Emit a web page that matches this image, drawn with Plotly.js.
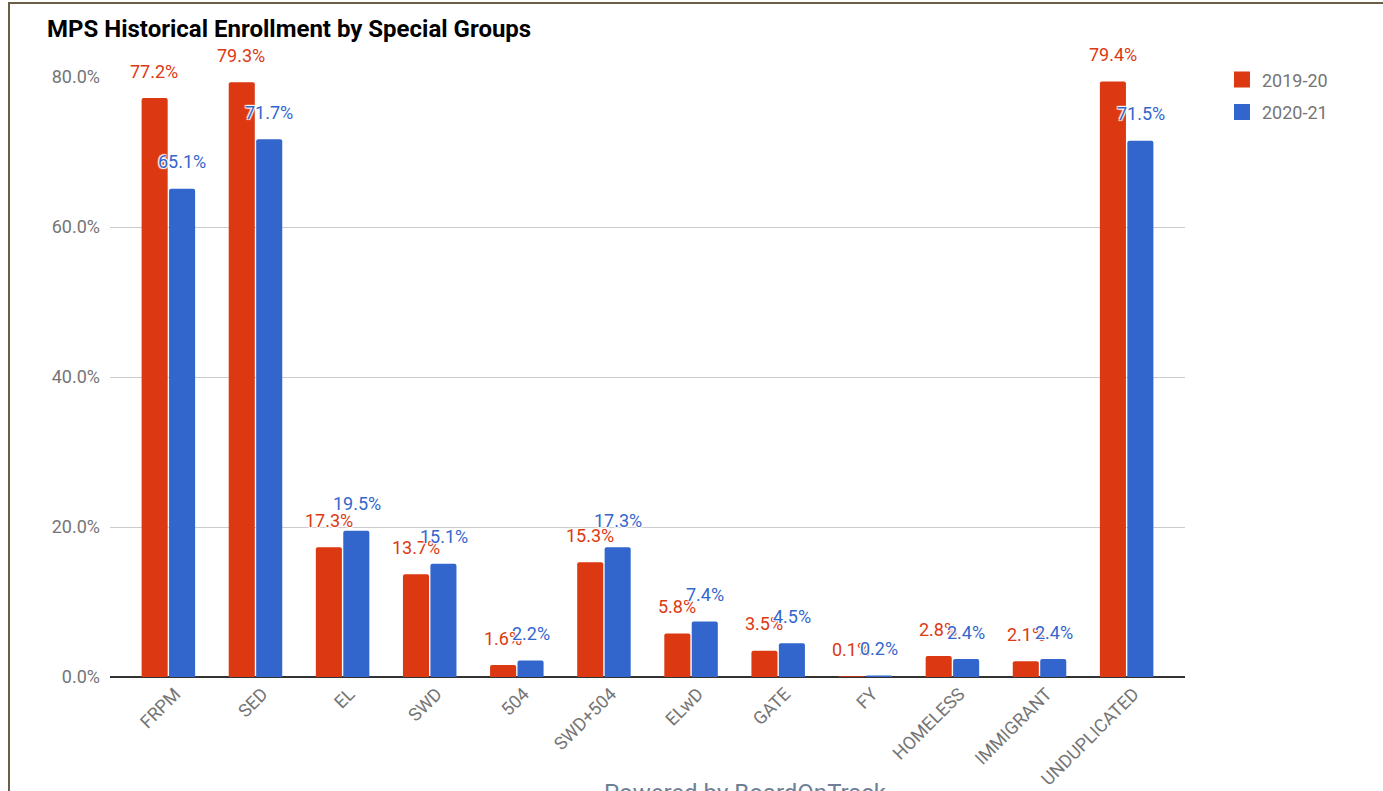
<!DOCTYPE html>
<html>
<head>
<meta charset="utf-8">
<script src="https://cdn.plot.ly/plotly-3.0.1.min.js"></script>
<style>
  html, body { margin: 0; padding: 0; background: #fff; overflow: hidden; }
  #chart { width: 1383px; height: 791px; }
  #frame { position: absolute; left: 8px; top: 2px; width: 1400px; height: 820px;
           border-top: 2px solid #6b5e45; border-left: 2px solid #6b5e45; pointer-events: none; }
</style>
</head>
<body>
<div id="chart"></div>
<div id="frame"></div>
<script>
const categories = ["FRPM", "SED", "EL", "SWD", "504", "SWD+504", "ELwD", "GATE", "FY", "HOMELESS", "IMMIGRANT", "UNDUPLICATED"];
const series2019 = [77.2, 79.3, 17.3, 13.7, 1.6, 15.3, 5.8, 3.5, 0.1, 2.8, 2.1, 79.4];
const series2020 = [65.1, 71.7, 19.5, 15.1, 2.2, 17.3, 7.4, 4.5, 0.2, 2.4, 2.4, 71.5];
const seriesNames = ["2019-20", "2020-21"];
const yTicks = [0, 20, 40, 60, 80];
const yTickLabels = ["0.0%", "20.0%", "40.0%", "60.0%", "80.0%"];

const RED = "#dc3912", BLUE = "#3366cc";
const FONT = "Roboto, Arial, sans-serif";
const halo = "1px 1px 1px #fff, -1px -1px 1px #fff, 1px -1px 1px #fff, -1px 1px 1px #fff";

const traces = [
  { type: "bar", name: seriesNames[0], x: categories, y: series2019, marker: { color: RED },
    showlegend: false, hoverinfo: "none" },
  { type: "bar", name: seriesNames[1], x: categories, y: series2020, marker: { color: BLUE },
    showlegend: false, hoverinfo: "none" },
  { type: "scatter", mode: "markers", name: seriesNames[0], x: [null], y: [null],
    marker: { color: RED, symbol: "square", size: 16 }, legendgroup: "a", hoverinfo: "none" },
  { type: "scatter", mode: "markers", name: seriesNames[1], x: [null], y: [null],
    marker: { color: BLUE, symbol: "square", size: 16 }, legendgroup: "b", hoverinfo: "none" }
];

const annotations = [];
function addLabels(vals, color, xshift) {
  vals.forEach((v, i) => {
    annotations.push({
      x: i, y: v, xref: "x", yref: "y",
      text: v.toFixed(1) + "%", showarrow: false,
      xshift: xshift, yshift: 27, yanchor: "middle", xanchor: "center",
      font: { family: FONT, size: 18, color: color, shadow: halo }
    });
  });
}
addLabels(series2019, RED, -14);
addLabels(series2020, BLUE, 14);

annotations.push({
  xref: "paper", yref: "paper", x: 0.5907, y: -0.166, xanchor: "center", yanchor: "top",
  text: "Powered by BoardOnTrack", showarrow: false,
  font: { family: FONT, size: 24, color: "#6f7f95" }
});

const layout = {
  width: 1383, height: 791,
  paper_bgcolor: "#fff", plot_bgcolor: "#fff",
  margin: { l: 110, r: 198, t: 77, b: 114, pad: 0 },
  title: { text: "<b>MPS Historical Enrollment by Special Groups</b>",
           font: { family: FONT, size: 24, color: "#000" },
           x: 47 / 1383, xanchor: "left", xref: "container",
           y: 1 - 29 / 791, yanchor: "middle", yref: "container" },
  barmode: "group", bargap: 0.37, bargroupgap: 0.05, barcornerradius: 2,
  xaxis: {
    type: "category", range: [-0.67, 11.67], tickangle: -45,
    tickfont: { family: FONT, size: 18, color: "#757575" },
    ticklabelshift: 7, ticklabelstandoff: 2,
    showgrid: false, zeroline: false, showline: false, ticks: "", fixedrange: true
  },
  yaxis: {
    range: [0, 80], tickvals: yTicks, ticktext: yTickLabels,
    tickfont: { family: FONT, size: 18, color: "#757575" },
    gridcolor: "#cccccc", gridwidth: 1,
    zeroline: true, zerolinecolor: "#333333", zerolinewidth: 1.5,
    showline: false, ticks: "", ticklabelstandoff: 9, fixedrange: true
  },
  showlegend: true,
  legend: {
    x: 1.0344, xanchor: "left", y: 1.026, yanchor: "top",
    font: { family: FONT, size: 18, color: "#757575" },
    traceorder: "grouped", tracegroupgap: 6, bgcolor: "rgba(0,0,0,0)"
  },
  annotations: annotations
};

Plotly.newPlot("chart", traces, layout, { displayModeBar: false, staticPlot: true });
</script>
</body>
</html>
